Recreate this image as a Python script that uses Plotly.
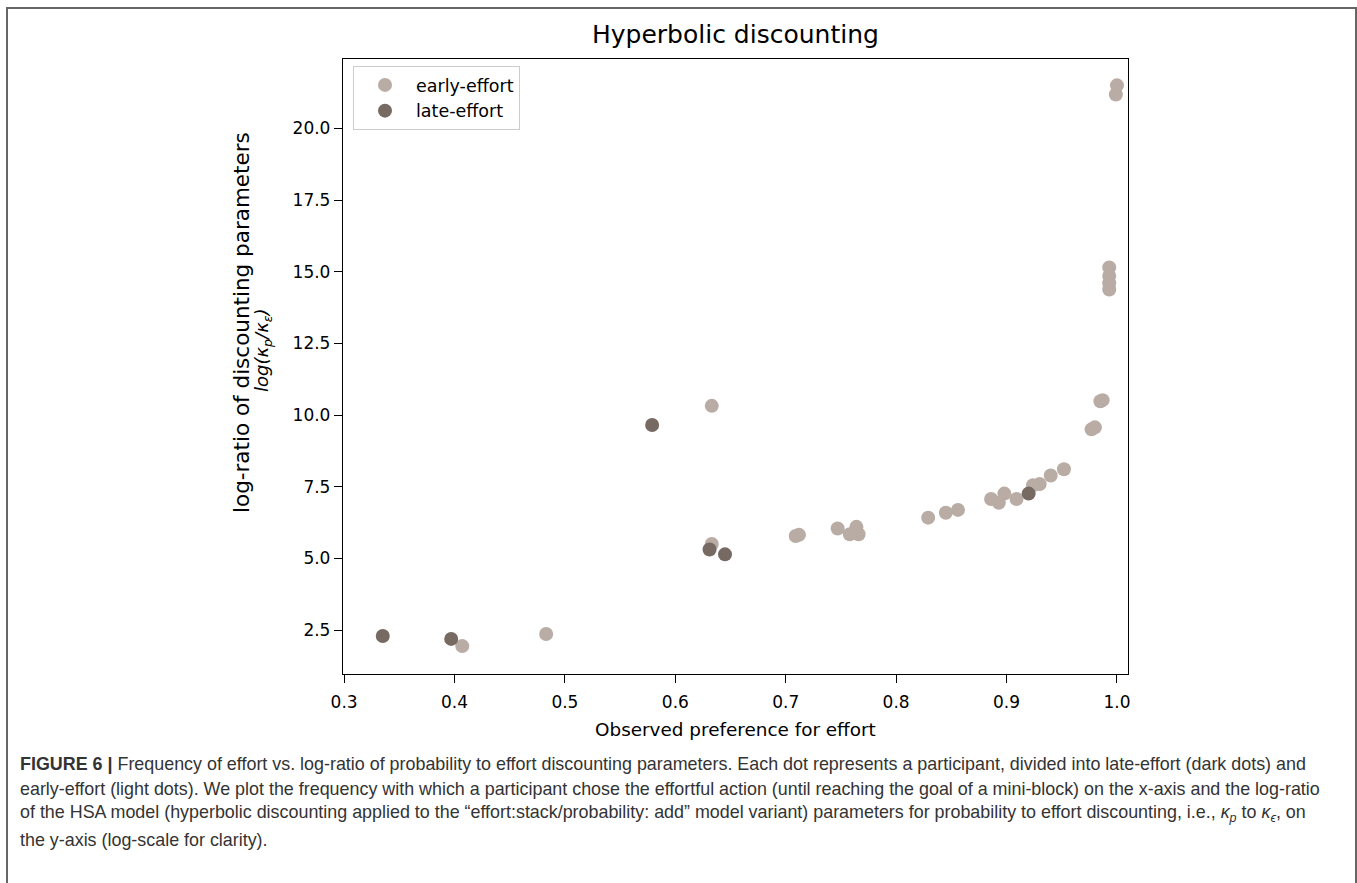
import plotly.graph_objects as go

# ---- data ----
early_x = [0.407, 0.483, 0.633, 0.633, 0.709, 0.712, 0.747, 0.764, 0.758, 0.766,
           0.829, 0.845, 0.856, 0.886, 0.893, 0.898, 0.909, 0.924, 0.930, 0.940,
           0.952, 0.977, 0.980, 0.985, 0.987, 0.993, 0.993, 0.993, 0.993, 1.000, 0.999]
early_y = [1.94, 2.36, 10.32, 5.50, 5.78, 5.82, 6.04, 6.10, 5.84, 5.84,
           6.42, 6.59, 6.69, 7.07, 6.94, 7.26, 7.07, 7.55, 7.59, 7.89,
           8.11, 9.50, 9.57, 10.48, 10.52, 15.15, 14.85, 14.60, 14.38, 21.50, 21.18]
late_x = [0.335, 0.397, 0.579, 0.631, 0.645, 0.920]
late_y = [2.29, 2.19, 9.65, 5.31, 5.14, 7.26]

x_ticks = [0.3, 0.4, 0.5, 0.6, 0.7, 0.8, 0.9, 1.0]
y_ticks = [2.5, 5.0, 7.5, 10.0, 12.5, 15.0, 17.5, 20.0]
series_names = ["early-effort", "late-effort"]
colors = ["#b9aca5", "#766a63"]

title_text = "Hyperbolic discounting"
x_label = "Observed preference for effort"
y_label_1 = "log-ratio of discounting parameters"
y_label_2 = "<i>log(κ<sub>p</sub>/κ<sub>ε</sub>)</i>"
caption_lines = [
    "<b>FIGURE 6 |</b> Frequency of effort vs. log-ratio of probability to effort discounting parameters. Each dot represents a participant, divided into late-effort (dark dots) and",
    "early-effort (light dots). We plot the frequency with which a participant chose the effortful action (until reaching the goal of a mini-block) on the x-axis and the log-ratio",
    "of the HSA model (hyperbolic discounting applied to the “effort:stack/probability: add” model variant) parameters for probability to effort discounting, i.e., <i>κ<sub>p</sub></i> to <i>κ<sub>ϵ</sub></i>, on",
    "the y-axis (log-scale for clarity).",
]

W, H = 1357, 883
L, R, T, B = 343, 1128, 59, 674  # plot area in pixels


def px(xp):
    return (xp - L) / (R - L)


def py(yp):
    return (B - yp) / (B - T)


fig = go.Figure()
fig.add_trace(go.Scatter(x=early_x, y=early_y, mode="markers", name=series_names[0],
                         marker=dict(size=14, color=colors[0], line=dict(width=0))))
fig.add_trace(go.Scatter(x=late_x, y=late_y, mode="markers", name=series_names[1],
                         marker=dict(size=14, color=colors[1], line=dict(width=0))))

font_main = "DejaVu Sans"
axis_common = dict(showline=True, mirror=True, linecolor="black", linewidth=1.3,
                   ticks="outside", ticklen=8, tickwidth=1.3, tickcolor="black",
                   showgrid=False, zeroline=False,
                   tickfont=dict(family=font_main, size=17, color="black"))

fig.update_layout(
    width=W, height=H,
    margin=dict(l=L, r=W - R, t=T, b=H - B, pad=0),
    paper_bgcolor="white", plot_bgcolor="white",
    showlegend=True,
    legend=dict(x=px(353), y=py(66), xanchor="left", yanchor="top",
                bgcolor="white", bordercolor="#cccccc", borderwidth=1,
                font=dict(family=font_main, size=17.5, color="black"),
                itemsizing="trace", itemwidth=52),
    xaxis=dict(range=[0.299, 1.01], tickvals=x_ticks, ticklabelstandoff=4,
               ticktext=[f"{v:.1f}" for v in x_ticks], **axis_common),
    yaxis=dict(range=[0.966, 22.42], tickvals=y_ticks,
               ticktext=[f"{v:.1f}" for v in y_ticks], **axis_common),
)

ann = []
ann.append(dict(text=title_text, x=0.5, y=py(35), xref="paper", yref="paper",
                showarrow=False, xanchor="center", yanchor="middle",
                font=dict(family=font_main, size=25, color="black")))
ann.append(dict(text=x_label, x=0.5, y=py(729), xref="paper", yref="paper",
                showarrow=False, xanchor="center", yanchor="middle",
                font=dict(family=font_main, size=18.4, color="black")))
ann.append(dict(text=y_label_1, x=px(241), y=py(323), xref="paper", yref="paper",
                showarrow=False, xanchor="center", yanchor="middle", textangle=-90,
                font=dict(family=font_main, size=21.5, color="black")))
ann.append(dict(text=y_label_2, x=px(263), y=py(350), xref="paper", yref="paper",
                showarrow=False, xanchor="center", yanchor="middle", textangle=-90,
                font=dict(family=font_main, size=18, color="black")))

cap_y = [764, 789, 814, 840]
for line, yy in zip(caption_lines, cap_y):
    ann.append(dict(text=line, x=px(18), y=py(yy), xref="paper", yref="paper",
                    showarrow=False, xanchor="left", yanchor="middle", align="left",
                    font=dict(family="Liberation Sans, Arial", size=17.9,
                              color="#333333")))
fig.update_layout(annotations=ann)

# outer figure frame
fig.add_shape(type="rect", xref="paper", yref="paper",
              x0=px(7), x1=px(1356), y0=py(886), y1=py(8),
              line=dict(color="#666666", width=2), layer="below")

fig.write_html("out.html")
